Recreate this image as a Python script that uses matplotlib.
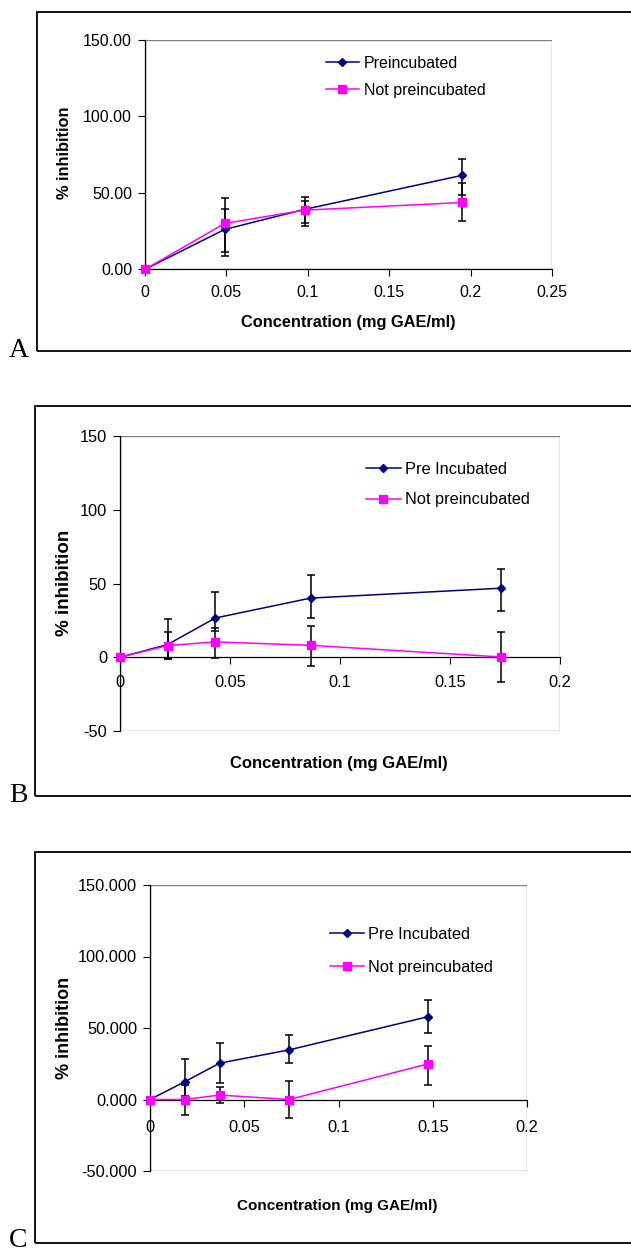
import matplotlib
matplotlib.use("Agg")
import matplotlib.pyplot as plt
from matplotlib import font_manager
from matplotlib.patches import Rectangle
from matplotlib.ticker import FuncFormatter

plt.rcParams['font.family'] = 'Liberation Sans'

# ---- panel A
conc_a      = [0, 0.049, 0.098, 0.195]
pre_a       = [0, 26.1, 39.2, 61.5]
pre_a_minus = [0, 17.2, 8.8, 13.2]
pre_a_plus  = [0, 13.1, 8.2, 10.5]
not_a       = [0, 30.0, 38.7, 43.7]
not_a_minus = [0, 18.7, 10.2, 12.4]
not_a_plus  = [0, 16.7, 6.3, 12.8]
labels_a    = ["Preincubated", "Not preincubated"]

# ---- panel B
conc_b      = [0, 0.0216, 0.0433, 0.0866, 0.1731]
pre_b       = [0, 8.6, 26.6, 40.1, 46.8]
pre_b_minus = [0, 10.1, 9.1, 13.8, 15.5]
pre_b_plus  = [0, 17.4, 17.4, 15.5, 12.7]
not_b       = [0, 7.9, 10.4, 8.1, 0.2]
not_b_minus = [0, 9.25, 11.2, 14.0, 16.9]
not_b_plus  = [0, 9.0, 9.2, 13.3, 16.7]
labels_b    = ["Pre Incubated", "Not preincubated"]

# ---- panel C
conc_c      = [0, 0.0184, 0.0369, 0.0738, 0.1475]
pre_c       = [0, 12.4, 25.4, 34.7, 57.9]
pre_c_minus = [0, 10.0, 14.0, 9.1, 11.3]
pre_c_plus  = [0, 15.7, 13.9, 10.5, 11.5]
not_c       = [0, 0, 3.1, 0, 24.9]
not_c_minus = [0, 10.5, 5.5, 13.2, 14.9]
not_c_plus  = [0, 10.2, 5.9, 12.7, 12.7]
labels_c    = ["Pre Incubated", "Not preincubated"]

xlabel = "Concentration (mg GAE/ml)"
ylabel = "% inhibition"


def has_font(name):
    try:
        font_manager.findfont(name, fallback_to_default=False)
        return True
    except ValueError:
        return False


NARROW = has_font('Liberation Sans Narrow')
narrow_family = 'Liberation Sans Narrow' if NARROW else 'Liberation Sans'

W, H = 631, 1251
fig = plt.figure(figsize=(W / 100, H / 100), dpi=100)


def fig_rect(left, top, right, bottom):
    return [left / W, 1 - bottom / H, (right - left) / W, (bottom - top) / H]


def draw_panel(rect, frame, letter, letter_base, conc, pre, pre_lo, pre_hi,
               notp, not_lo, not_hi, labels, xmax, ymin, yfmt, family, fs,
               xlab_fs, xlab_family, ylab_fs, xpad, xlab_pos, ylab_pos,
               leg_anchor, leg_px, cross_zero):
    # outer black frame (runs off the right edge like the original)
    fig.add_artist(Rectangle((frame[0] / W, 1 - frame[2] / H),
                             (W + 50 - frame[0]) / W, (frame[2] - frame[1]) / H,
                             transform=fig.transFigure, fill=False,
                             ec='black', lw=1.3, clip_on=False))
    fig.text(9 / W, 1 - letter_base / H, letter, family='Liberation Serif',
             fontsize=20, va='baseline', ha='left')

    ax = fig.add_axes(rect)
    ax.set_xlim(0, xmax)
    ax.set_ylim(ymin, 150)
    ax.set_xticks([i * 0.05 for i in range(int(round(xmax / 0.05)) + 1)])
    ax.set_yticks(list(range(ymin, 151, 50)))
    ax.xaxis.set_major_formatter(FuncFormatter(lambda v, p: f"{v:g}"))
    ax.yaxis.set_major_formatter(FuncFormatter(lambda v, p: yfmt.format(v)))

    for s in ['top', 'right', 'bottom']:
        ax.spines[s].set_visible(False)
    ax.add_patch(Rectangle((0, 0), 1, 1, transform=ax.transAxes, fill=False,
                           ec='#808080', lw=1.0, zorder=1))
    ax.spines['bottom'].set_visible(True)
    if cross_zero:
        ax.spines['bottom'].set_position(('data', 0))
    ax.spines['bottom'].set_color('black')
    ax.spines['left'].set_color('black')
    ax.spines['bottom'].set_linewidth(0.9)
    ax.spines['left'].set_linewidth(0.9)
    ax.spines['bottom'].set_zorder(1.5)

    ax.tick_params(axis='both', direction='out', length=5, width=0.8,
                   colors='black', labelsize=fs)
    ax.tick_params(axis='y', pad=4.3)
    ax.tick_params(axis='x', pad=xpad)
    for t in ax.get_xticklabels() + ax.get_yticklabels():
        t.set_family(family)

    ax.errorbar(conc, pre, yerr=[pre_lo, pre_hi], fmt='none', ecolor='black',
                elinewidth=1.1, capsize=2.6, capthick=1.1, zorder=2, clip_on=False)
    ax.errorbar(conc, notp, yerr=[not_lo, not_hi], fmt='none', ecolor='black',
                elinewidth=1.1, capsize=2.6, capthick=1.1, zorder=2, clip_on=False)
    l1, = ax.plot(conc, pre, color='#000080', lw=1.1, marker='D', ms=4.4,
                  mfc='#000080', mec='#000080', zorder=3, clip_on=False)
    l2, = ax.plot(conc, notp, color='#FF00FF', lw=1.1, marker='s', ms=5.3,
                  mfc='#FF00FF', mec='#FF00FF', zorder=4, clip_on=False)

    fpx = fs * 100 / 72
    ax.legend([l1, l2], labels, loc='upper left', bbox_to_anchor=leg_anchor,
              frameon=False, borderaxespad=0, borderpad=0,
              handlelength=leg_px[0] / fpx, handletextpad=leg_px[1] / fpx,
              labelspacing=leg_px[2] / fpx,
              prop={'family': family, 'size': fs})

    ax.set_xlabel(xlabel, fontsize=xlab_fs, fontweight='bold',
                  family=xlab_family, va='center', ha='center')
    ax.xaxis.set_label_coords(*xlab_pos)
    ax.set_ylabel(ylabel, fontsize=ylab_fs, fontweight='bold',
                  va='center', ha='center')
    ax.yaxis.set_label_coords(*ylab_pos)
    return ax


fs_bc = 13.5 if NARROW else 11.8

draw_panel(fig_rect(145, 40, 552, 269.3), (36.6, 12, 351), "A", 357,
           conc_a, pre_a, pre_a_minus, pre_a_plus,
           not_a, not_a_minus, not_a_plus, labels_a,
           0.25, 0, "{:.2f}", 'Liberation Sans', 11.5,
           11.8, 'Liberation Sans', 11.8, 6.5,
           (0.499, -0.233), (-0.199, 0.507),
           (0.4447, 0.932), (33, 5, 12), False)

draw_panel(fig_rect(120, 436, 560, 731), (35.4, 406, 796), "B", 802,
           conc_b, pre_b, pre_b_minus, pre_b_plus,
           not_b, not_b_minus, not_b_plus, labels_b,
           0.2, -50, "{:.0f}", narrow_family, fs_bc,
           12.0, 'Liberation Sans', 13.5, 8.0,
           (0.4977, -0.1085), (-0.127, 0.502),
           (0.559, 0.912), (35, 4, 15.5), True)

draw_panel(fig_rect(150, 885, 527, 1171), (34.5, 852.3, 1242.7), "C", 1247,
           conc_c, pre_c, pre_c_minus, pre_c_plus,
           not_c, not_c_minus, not_c_plus, labels_c,
           0.2, -50, "{:.3f}", narrow_family, fs_bc,
           12.5 if NARROW else 11.0, narrow_family, 13.0, 10.0,
           (0.4976, -0.122), (-0.228, 0.5),
           (0.477, 0.853), (34, 4, 18), True)

fig.savefig("out.png", dpi=100)
